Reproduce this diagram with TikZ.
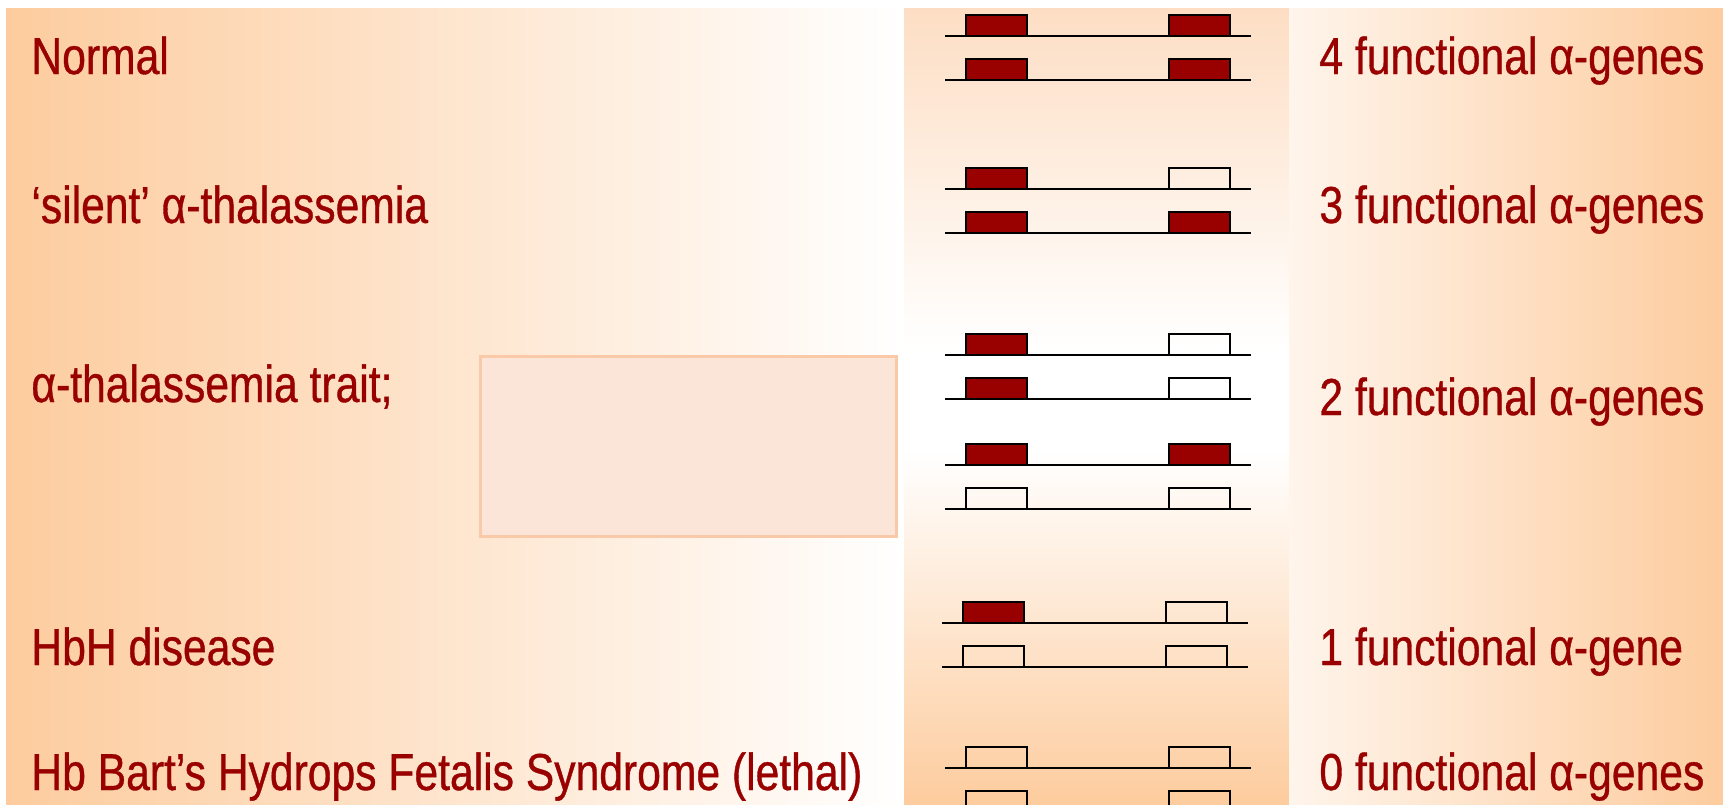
\documentclass[tikz,border=0pt]{standalone}
\usepackage{fontspec}
\setmainfont{Liberation Sans}[FakeStretch=0.82,FakeBold=0.7]
\definecolor{peach}{RGB}{253,204,158}
\definecolor{peachtop}{RGB}{253,222,196}
\definecolor{dred}{RGB}{153,0,0}
\definecolor{boxfill}{RGB}{250,229,216}
\definecolor{boxline}{RGB}{249,201,168}
\tikzset{
  lbl/.style={anchor=base west, inner sep=0pt, text=dred, font=\fontsize{26}{30}\selectfont},
  chromline/.style={draw=black, line width=1.4pt},
  genefull/.style={draw=black, line width=1.3pt, fill=dred},
  geneempty/.style={draw=black, line width=1.3pt, fill=none},
}
\begin{document}
\begin{tikzpicture}[x=0.5pt,y=-0.5pt]
\useasboundingbox (0,0) rectangle (1723,804);
\clip (0,0) rectangle (1723,804);
\fill[white] (0,0) rectangle (1723,804);
% backgrounds
\shade[left color=peach, right color=white] (6,8) rectangle (904,804);
\shade[top color=peachtop, bottom color=white] (904,8) rectangle (1289,350);
\fill[white] (904,349) rectangle (1289,451);
\shade[top color=white, bottom color=peach] (904,450) rectangle (1289,804);
\shade[left color=peach!20, right color=peach] (1289,8) rectangle (1723,804);
% empty panel box
\node[draw=boxline, fill=boxfill, line width=1.5pt, minimum width=208pt, minimum height=90pt, inner sep=0pt] (panel) at (688,446) {};
% chromosomes: dx, y, left style, right style
\foreach \dx/\y/\ls/\rs in {0/36/genefull/genefull, 0/80/genefull/genefull,
  0/189/genefull/geneempty, 0/233/genefull/genefull,
  0/355/genefull/geneempty, 0/399/genefull/geneempty,
  0/465/genefull/genefull, 0/509/geneempty/geneempty,
  -3/623/genefull/geneempty, -3/667/geneempty/geneempty,
  0/768/geneempty/geneempty, 0/812/geneempty/geneempty}{
  \draw[\ls] (966+\dx,\y) rectangle (1027+\dx,\y-21);
  \draw[\rs] (1169+\dx,\y) rectangle (1230+\dx,\y-21);
  \draw[chromline] (945+\dx,\y) -- (1251+\dx,\y);
}
% left labels
\node[lbl] (l1) at (31,74) {Normal};
\node[lbl] (l2) at (31,223) {‘silent’ α-thalassemia};
\node[lbl] (l3) at (31,402) {α-thalassemia trait;};
\node[lbl] (l4) at (31,665) {HbH disease};
\node[lbl] (l5) at (31,790) {Hb Bart’s Hydrops Fetalis Syndrome (lethal)};
% right labels
\node[lbl] (r1) at (1319,74) {4 functional α-genes};
\node[lbl] (r2) at (1319,223) {3 functional α-genes};
\node[lbl] (r3) at (1319,415) {2 functional α-genes};
\node[lbl] (r4) at (1319,665) {1 functional α-gene};
\node[lbl] (r5) at (1319,790) {0 functional α-genes};
\end{tikzpicture}
\end{document}
